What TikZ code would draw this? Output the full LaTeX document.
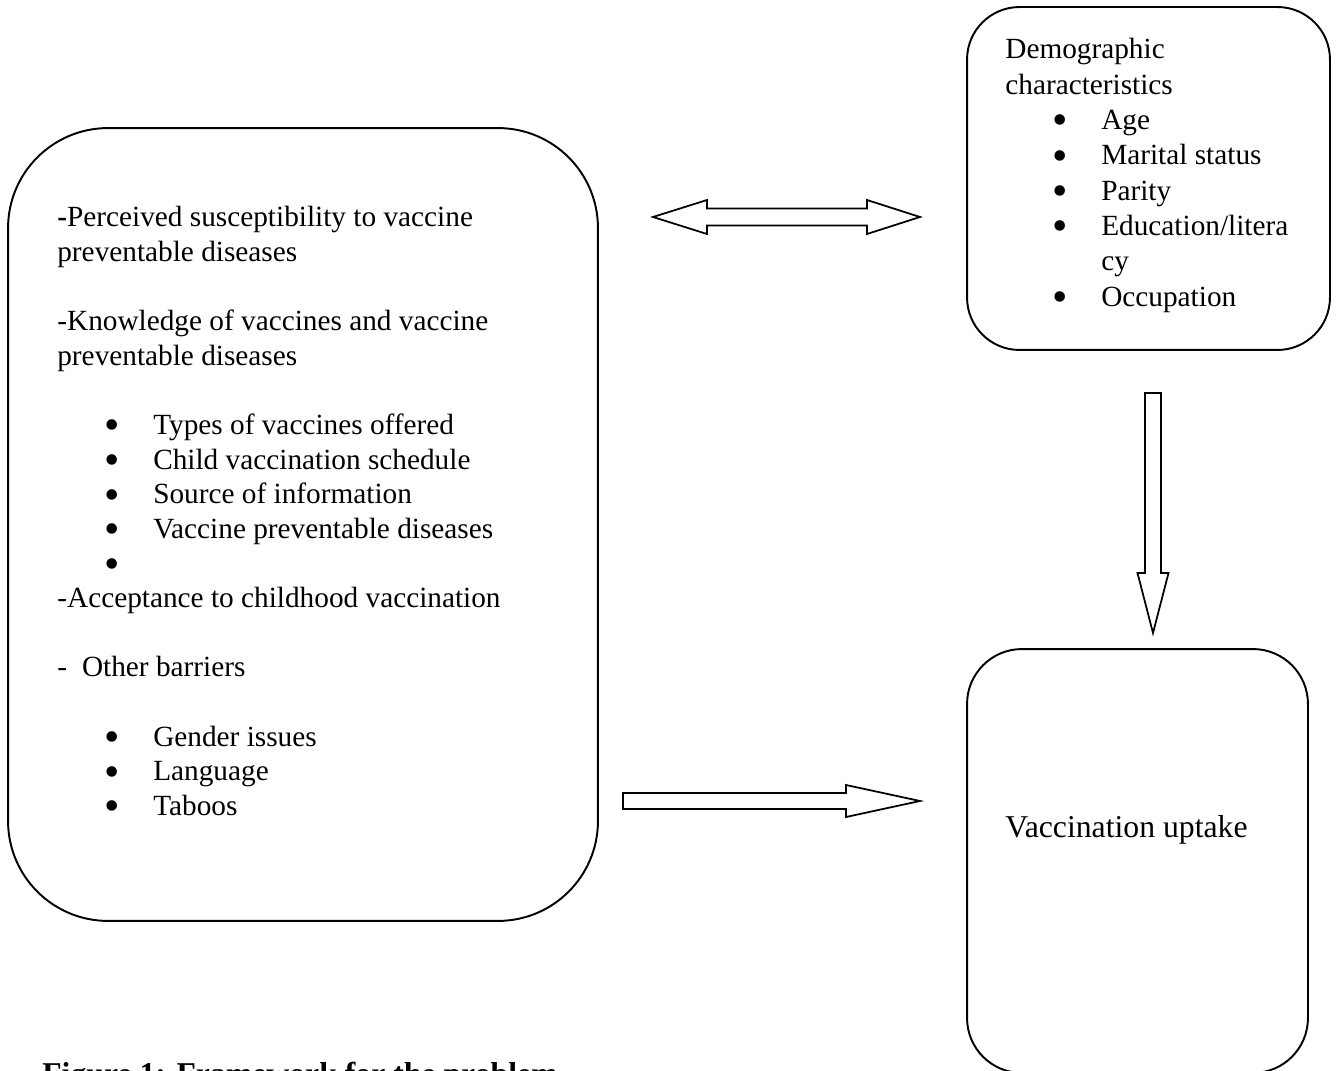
\documentclass[tikz,border=0pt]{standalone}
\usepackage{fontspec}
\setmainfont{Liberation Serif}
\usepackage{tikz}
\usetikzlibrary{positioning, calc}

\newcommand{\listitem}[1]{\hspace*{27.1pt}\makebox[27.5pt][l]{\smash{\raisebox{-3pt}{\scalebox{1.5}{\textbullet}}}}#1}
\newcommand{\bodytext}[1]{\fontsize{16.67pt}{#1}\selectfont}

\tikzset{
  block/.style={draw, line width=1.1pt, inner sep=0pt, rounded corners=#1},
  hollow/.style={draw, line width=1pt, line join=miter},
  textblock/.style={anchor=base west, inner sep=0pt}
}

\begin{document}
\begin{tikzpicture}[x=0.02cm, y=-0.02cm]
\useasboundingbox (0,0) rectangle (1336,1071);

% the three blocks
\node[block=2cm, minimum width=11.8cm, minimum height=15.86cm] (factors) at (303,524.5) {};
\node[block=1.05cm, minimum width=7.26cm, minimum height=6.86cm] (demo) at (1148.5,178.5) {};
\node[block=1.1cm, minimum width=6.82cm, minimum height=8.48cm] (uptake) at (1137.5,861) {};

% texts inside the blocks
\node[textblock] (factorstext) at (57,227) {\parbox[t]{11cm}{\bodytext{19.7pt}\raggedright
\textbf{-}Perceived susceptibility to vaccine\\
preventable diseases\\
\mbox{}\\
-Knowledge of vaccines and vaccine\\
preventable diseases\\
\mbox{}\\
\listitem{Types of vaccines offered}\\
\listitem{Child vaccination schedule}\\
\listitem{Source of information}\\
\listitem{Vaccine preventable diseases}\\
\listitem{}\\
-Acceptance to childhood vaccination\\
\mbox{}\\
-\hspace{8.5pt}Other barriers\\
\mbox{}\\
\listitem{Gender issues}\\
\listitem{Language}\\
\listitem{Taboos}}};

\node[textblock] (demotext) at (1005,59) {\parbox[t]{6.5cm}{\bodytext{20.1pt}\raggedright
Demographic\\
characteristics\\
\listitem{Age}\\
\listitem{Marital status}\\
\listitem{Parity}\\
\listitem{Education/litera}\\
\hspace*{54.6pt}cy\\
\listitem{Occupation}}};

\node[textblock, font=\fontsize{18.06pt}{21pt}\selectfont] (uptaketext) at (1005,837) {Vaccination uptake};

% caption, cut by the page edge
\node[textblock, font=\fontsize{18.06pt}{21pt}\selectfont\bfseries] (caption) at (42,1084) {Figure 1: Framework for the problem};

% double arrow between factors and demographics
\coordinate (dblW) at (653,217);
\coordinate (dblE) at (920,217);
\draw[hollow] (dblW) -- ++(54,-17) -- ++(0,8.5) -- ($(dblE)+(-53,-8.5)$) -- ++(0,-8.5) -- (dblE)
  -- ++(-53,17) -- ++(0,-8.5) -- ($(dblW)+(54,8.5)$) -- ++(0,8.5) -- cycle;

% demographics down to uptake
\coordinate (downN) at (1153,393);
\coordinate (downS) at (1153,633);
\draw[hollow] ($(downN)+(-8,0)$) -- ($(downS)+(-8,-60)$) -- ++(-7.5,0) -- (downS)
  -- ++(15.5,-60) -- ++(-7.5,0) -- ($(downN)+(8,0)$) -- cycle;

% factors across to uptake
\coordinate (rightW) at (623,801);
\coordinate (rightE) at (920,801);
\draw[hollow] ($(rightW)+(0,-8)$) -- ($(rightE)+(-74,-8)$) -- ++(0,-8) -- (rightE)
  -- ++(-74,16) -- ++(0,-8) -- ($(rightW)+(0,8)$) -- cycle;
\end{tikzpicture}
\end{document}
